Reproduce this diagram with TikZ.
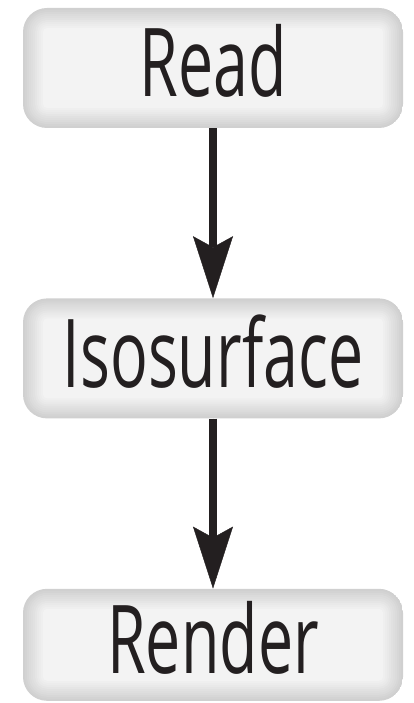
\documentclass[tikz,border=0pt]{standalone}
\usepackage{fontspec}
\newfontfamily\stagefont{Open Sans}[FakeStretch=0.66]
\usetikzlibrary{arrows.meta,positioning,calc}
\definecolor{ink}{HTML}{231F20}
\definecolor{boxedge}{HTML}{D0D0D0}
\definecolor{boxmid}{HTML}{F3F3F3}
\tikzset{
  stage/.style={
    rounded corners=24pt, inner sep=0pt,
    minimum width=380pt, minimum height=120pt,
    text height=68pt, text depth=10pt, text=ink,
    font=\stagefont\fontsize{95pt}{95pt}\selectfont,
    path picture={
      \foreach \i [evaluate=\i as \p using 100-10*\i,
                   evaluate=\i as \r using 24-2*\i] in {0,...,10}
        \fill[boxedge!\p!boxmid, rounded corners=\r pt]
          ($(path picture bounding box.south west)+(2*\i pt,2*\i pt)$)
          rectangle
          ($(path picture bounding box.north east)-(2*\i pt,2*\i pt)$);
    }},
  flow/.style={-{Stealth[length=62pt,width=40pt,inset=11pt,line width=0.4pt]},
               draw=ink, fill=ink, line width=7.5pt},
}

\begin{document}
\begin{tikzpicture}[node distance=170pt]
\useasboundingbox (0,0) rectangle (413pt,-703pt);

\node[stage] (read) at (213pt,-68pt) {Read};
\node[stage, below=of read] (iso) {Isosurface};
\node[stage, below=of iso, minimum height=112pt] (render) {Render};

\foreach \a/\b in {read/iso, iso/render}
  \draw[flow] (\a) -- (\b);

\end{tikzpicture}
\end{document}
